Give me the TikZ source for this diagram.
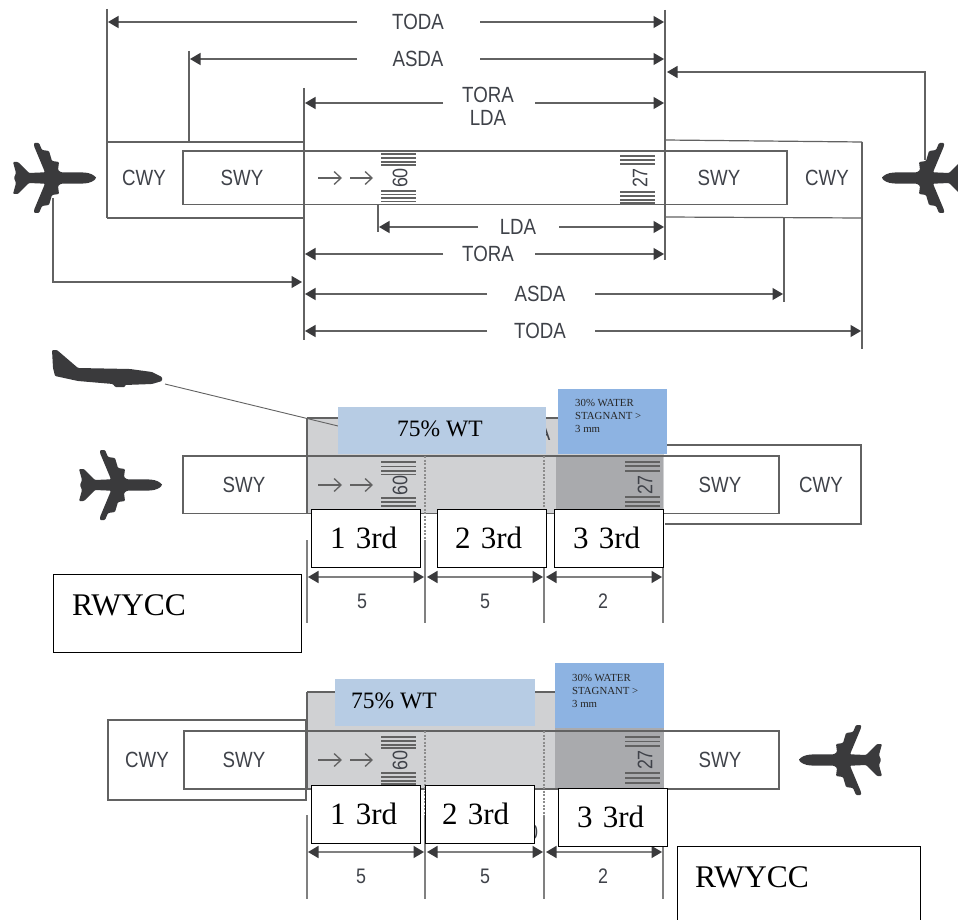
\documentclass[tikz,border=0pt]{standalone}
\usepackage{fontspec}
\setmainfont{Liberation Serif}
\newfontfamily\condsans[FakeStretch=0.85]{Liberation Sans}
\usetikzlibrary{arrows.meta}
\definecolor{inkline}{HTML}{626262}
\definecolor{inkdark}{HTML}{3A3A3C}
\definecolor{inktext}{HTML}{3F4249}
\definecolor{greylight}{HTML}{D0D1D3}
\definecolor{greydark}{HTML}{A9AAAD}
\definecolor{bluelight}{HTML}{B7CCE4}
\definecolor{bluemid}{HTML}{8DB3E2}
\tikzset{
  x=1pt,y=-1pt,
  ln/.style={draw=inkline,line width=1.2pt},
  thinln/.style={draw=inkline,line width=0.9pt},
  dimline/.style={draw=inkline,line width=1.3pt,-{Triangle[length=10.5pt,width=12pt,color=inkdark]}},
  dimboth/.style={draw=gray,line width=1.6pt,{Triangle[length=10.5pt,width=12pt,color=inkdark]}-{Triangle[length=10.5pt,width=12pt,color=inkdark]}},
  lab/.style={font=\condsans\fontsize{22}{22}\selectfont,text=inktext,inner sep=0pt},
  bar/.style={draw=inkline,line width=1.4pt},
  numlab/.style={font=\condsans\fontsize{21}{21}\selectfont,text=inktext,inner sep=0pt},
  rwarrow/.style={draw=inkline,line width=1.3pt,-{Straight Barb[length=7pt,width=13pt]}},
  thirdbox/.style={draw=black,line width=0.9pt,fill=white,anchor=north west,align=left,
    font=\fontsize{31}{31}\selectfont,minimum height=58pt,inner ysep=0pt,outer sep=0pt},
  notebox/.style={draw=black,line width=0.9pt,fill=white,anchor=north west,align=left,
    font=\fontsize{31.5}{32}\selectfont,inner ysep=0pt,outer sep=0pt},
  wt/.style={font=\fontsize{23.5}{24}\selectfont,inner sep=0pt,anchor=west},
  water/.style={font=\fontsize{10.8}{13}\selectfont,inner sep=0pt,anchor=north west,align=left,text=black!85},
  dashln/.style={draw=gray!90,line width=1.4pt,dash pattern=on 2pt off 1.5pt},
  jettop/.pic={
    \fill[inkdark,rounded corners=1pt] (0,0) .. controls (-2,-3) and (-6,-5) .. (-12,-5.5) -- (-35,-5.7) -- (-38,-8) -- (-37,-16) -- (-44,-17)
      -- (-47,-27) -- (-54,-28) -- (-57,-35) -- (-62,-35) -- (-62,-32) -- (-51,-5.7) -- (-67,-5) -- (-78,-16) -- (-83,-16) -- (-80,-5) -- (-82,0)
      -- (-80,5) -- (-83,16) -- (-78,16) -- (-67,5) -- (-51,5.7) -- (-62,32) -- (-62,35) -- (-57,35) -- (-54,28) -- (-47,27)
      -- (-44,17) -- (-37,16) -- (-38,8) -- (-35,5.7) -- (-12,5.5) .. controls (-6,5) and (-2,3) .. (0,0) -- cycle;
  }
}
\newcommand{\dimrow}[8]{%
  \node[lab] (#1) at (#3,#4) {#2};
  \coordinate (#1a) at (#5,#4); \coordinate (#1b) at (#7,#4);
  \coordinate (#1c) at (#6,#4); \coordinate (#1d) at (#8,#4);
  \draw[dimline] (#1a) -- (#1b);
  \draw[dimline] (#1c) -- (#1d);
}
\newcommand{\markings}[7]{% x09 x27 ycentre upper bars lower bars
  \foreach \yy in {#4} {\draw[bar] (381,\yy) -- (416,\yy); }
  \foreach \yy in {#5} {\draw[bar] (381,\yy) -- (416,\yy); }
  \foreach \yy in {#6} {\draw[bar] (#2-20,\yy) -- (#2+15,\yy); }
  \foreach \yy in {#7} {\draw[bar] (#2-20,\yy) -- (#2+15,\yy); }
  \node[lab,rotate=-90,font=\condsans\fontsize{21}{21}\selectfont] at (#1,#3) {09};
  \node[lab,rotate=90,font=\condsans\fontsize{21}{21}\selectfont] at (#2,#3) {27};
  \coordinate (ra) at (318,#3); \coordinate (rb) at (342,#3);
  \coordinate (rc) at (350,#3); \coordinate (rd) at (373,#3);
  \draw[rwarrow] (ra) -- (rb);
  \draw[rwarrow] (rc) -- (rd);
}
\begin{document}
\begin{tikzpicture}
\useasboundingbox (0,0) rectangle (958,920);
\clip (0,0) rectangle (958,920);
\fill[white] (0,0) rectangle (958,920);

% ============ panel 1
\coordinate (v1a) at (107,9);   \coordinate (v1b) at (107,218);
\coordinate (v2a) at (189,51);  \coordinate (v2b) at (189,142);
\coordinate (v3a) at (304,88);  \coordinate (v3b) at (304,340);
\coordinate (v4a) at (665,10);  \coordinate (v4b) at (665,260);
\coordinate (v5a) at (862,142); \coordinate (v5b) at (862,349);
\coordinate (v6a) at (784,218); \coordinate (v6b) at (784,302);
\coordinate (v7a) at (378,205); \coordinate (v7b) at (378,232);
\draw[ln] (v1a) -- (v1b);
\draw[ln] (v2a) -- (v2b);
\draw[ln] (v3a) -- (v3b);
\draw[ln] (v4a) -- (v4b);
\draw[ln] (v5a) -- (v5b);
\draw[ln] (v6a) -- (v6b);
\draw[ln] (v7a) -- (v7b);
\draw[ln] (107,142) -- (304,142);
\draw[ln] (107,218) -- (304,218);
\draw[ln] (665,140) -- (862,142);
\draw[ln] (665,217) -- (862,218);
\draw[ln] (183,151) rectangle (787,204.5);
\node[lab] (cwy1) at (144,178) {CWY};
\node[lab] (swy1) at (242,178) {SWY};
\node[lab] (swy2) at (719,178) {SWY};
\node[lab] (cwy2) at (827,178) {CWY};
\markings{400}{640}{178}{154,158,162,165}{191,194.5,198,201.5}{156,160,164}{192,196,200,203}
\dimrow{todaT}{TODA}{418}{22}{357}{480}{108}{664}
\dimrow{asdaT}{ASDA}{418}{59}{357}{480}{190}{664}
\coordinate (toraLa) at (443,103); \coordinate (toraLb) at (305,103);
\coordinate (toraRa) at (535,103); \coordinate (toraRb) at (664,103);
\draw[dimline] (toraLa) -- (toraLb);
\draw[dimline] (toraRa) -- (toraRb);
\node[lab] (toraT) at (488,95) {TORA};
\node[lab] (ldaT) at (488,118) {LDA};
\dimrow{ldaB}{LDA}{518}{227}{478}{559}{379}{664}
\dimrow{toraB}{TORA}{488}{254}{443}{535}{305}{664}
\dimrow{asdaB}{ASDA}{540}{294}{487}{595}{305}{783}
\dimrow{todaB}{TODA}{540}{331}{487}{595}{305}{861}
\pic at (96,178) {jettop};
\pic[xscale=-1] at (882,178) {jettop};
\coordinate (p1a) at (53,198); \coordinate (p1b) at (53,282); \coordinate (p1c) at (302,282);
\coordinate (p2a) at (925,160); \coordinate (p2b) at (925,72); \coordinate (p2c) at (667,72);
\draw[dimline,line width=1.1pt] (p1a) -- (p1b) -- (p1c);
\draw[dimline,line width=1.1pt] (p2a) -- (p2b) -- (p2c);

% ============ panel 2
\fill[greylight] (307,418) rectangle (664,514);
\fill[greydark] (556,455) rectangle (663,514);
\draw[ln] (307,418) -- (560,418);
\draw[ln] (307,418) -- (307,514);
\draw[ln] (183,456) rectangle (779,513.5);
\draw[ln] (665,445) -- (861,445) -- (861,524) -- (665,524);
\node[lab] (swy3) at (244,485) {SWY};
\node[lab] (swy4) at (720,485) {SWY};
\node[lab] (cwy3) at (821,485) {CWY};
\markings{400}{645}{485}{462,466.5,471,474.5}{498,502,506}{462,466,471}{497,502,506}
\draw[dashln] (425,456) -- (425,540);
\draw[dashln] (544,456) -- (544,514);
\node[lab] (fragA) at (544,433) {A};
\coordinate (appA) at (165,384); \coordinate (appB) at (338,426);
\draw[thinln] (appA) -- (appB);
\fill[inkdark,rounded corners=1pt] (52,350) -- (57,350) -- (78,368) -- (130,369) -- (152,372) -- (162,377) -- (162,381) -- (152,384) -- (125,385) -- (125,387) -- (115,387) -- (113,384) -- (78,381) -- (55,376) -- (53,368) -- cycle;
\pic at (162,485) {jettop};
\node[fill=bluelight,minimum width=208pt,minimum height=47pt,anchor=north west,inner sep=0pt] (wt1box) at (338,407) {};
\node[wt] (wt1) at (397,429) {75\% WT};
\node[fill=bluemid,minimum width=109pt,minimum height=65pt,anchor=north west,inner sep=0pt] (w1box) at (558,389) {};
\node[water] (w1) at (575,399) {30\% WATER\\STAGNANT >\\3 mm};
\coordinate (d1) at (307,540); \coordinate (d1e) at (307,623);
\coordinate (d2) at (425,540); \coordinate (d2e) at (425,623);
\coordinate (d3) at (544,514); \coordinate (d3e) at (544,623);
\coordinate (d4) at (663,514); \coordinate (d4e) at (663,623);
\draw[ln,draw=gray] (d1) -- (d1e);
\draw[ln,draw=gray] (d2) -- (d2e);
\draw[ln,draw=gray] (d3) -- (d3e);
\draw[ln,draw=gray] (d4) -- (d4e);
\coordinate (a1) at (308,577); \coordinate (a2) at (424,577);
\coordinate (a3) at (427,577); \coordinate (a4) at (543,577);
\coordinate (a5) at (546,577); \coordinate (a6) at (662,577);
\draw[dimboth] (a1) -- (a2);
\draw[dimboth] (a3) -- (a4);
\draw[dimboth] (a5) -- (a6);
\node[numlab] (n1) at (362,601) {5};
\node[numlab] (n2) at (485,601) {5};
\node[numlab] (n3) at (603,601) {2};
\node[thirdbox,inner xsep=19pt,text width=71pt] (t1) at (311,509) {1 3rd};
\node[thirdbox,inner xsep=18pt,text width=73pt] (t2) at (437,509) {2 3rd};
\node[thirdbox,inner xsep=19pt,text width=71pt] (t3) at (554,509) {3 3rd};
\node[notebox,inner xsep=19pt,text width=210pt,minimum height=78pt] (r1) at (53,574) {\raisebox{15pt}{RWYCC}};

% ============ panel 3
\fill[greylight] (307,692) rectangle (664,789);
\fill[greydark] (555,728) rectangle (664,789);
\draw[ln] (307,692) -- (556,692);
\draw[line width=1.5pt,draw=inkline] (307,692) -- (307,789);
\draw[ln] (108,720) -- (306,720) -- (306,800) -- (108,800) -- cycle;
\draw[ln] (184,731) rectangle (779,789);
\node[lab] (cwy5) at (147,760) {CWY};
\node[lab] (swy5) at (244,760) {SWY};
\node[lab] (swy6) at (720,760) {SWY};
\markings{400}{645}{760}{737,741,745,748}{773,777,781,784}{737,741.5,746}{773,778,783}
\draw[dashln] (425,731) -- (425,815);
\draw[dashln] (544,731) -- (544,816);
\node[numlab] (frag0) at (533,832) {0};
\pic[xscale=-1] at (799,760) {jettop};
\node[fill=bluelight,minimum width=200pt,minimum height=47pt,anchor=north west,inner sep=0pt] (wt2box) at (335,679) {};
\node[wt] (wt2) at (351,701) {75\% WT};
\node[fill=bluemid,minimum width=109pt,minimum height=65pt,anchor=north west,inner sep=0pt] (w2box) at (555,663) {};
\node[water] (w2) at (572,674) {30\% WATER\\STAGNANT >\\3 mm};
\coordinate (e1) at (307,815); \coordinate (e1e) at (307,899);
\coordinate (e2) at (425,815); \coordinate (e2e) at (425,899);
\coordinate (e3) at (544,816); \coordinate (e3e) at (544,899);
\coordinate (e4) at (663,846); \coordinate (e4e) at (663,899);
\draw[ln,draw=gray] (e1) -- (e1e);
\draw[ln,draw=gray] (e2) -- (e2e);
\draw[ln,draw=gray] (e3) -- (e3e);
\draw[ln,draw=gray] (e4) -- (e4e);
\coordinate (b1) at (308,852); \coordinate (b2) at (424,852);
\coordinate (b3) at (427,852); \coordinate (b4) at (543,852);
\coordinate (b5) at (546,852); \coordinate (b6) at (662,852);
\draw[dimboth] (b1) -- (b2);
\draw[dimboth] (b3) -- (b4);
\draw[dimboth] (b5) -- (b6);
\node[numlab] (m1) at (361,876) {5};
\node[numlab] (m2) at (485,876) {5};
\node[numlab] (m3) at (603,876) {2};
\node[thirdbox,inner xsep=19pt,text width=71pt] (s1) at (311,785) {1 3rd};
\node[thirdbox,inner xsep=17pt,text width=75pt] (s2) at (425,785) {2 3rd};
\node[thirdbox,inner xsep=19pt,text width=71pt] (s3) at (558,788) {3 3rd};
\node[notebox,inner xsep=18pt,text width=207pt,minimum height=90pt] (r2) at (677,846) {\raisebox{28pt}{RWYCC}};
\end{tikzpicture}
\end{document}
